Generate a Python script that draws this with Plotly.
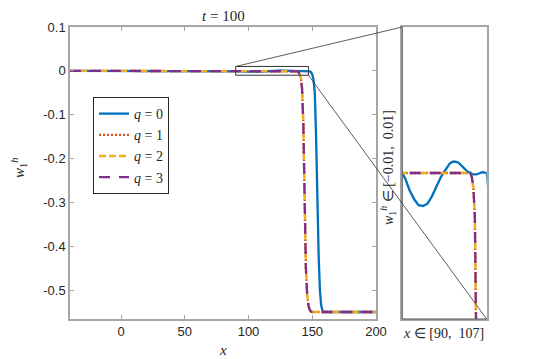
import plotly.graph_objects as go

# ---------------- data ----------------
x_q0 = [-40, 90, 92, 95, 98, 101, 104, 107, 110, 113, 116, 118, 120, 122, 124, 126, 128,
        130, 132, 134, 136, 138, 140, 142, 144, 146, 147, 148, 149, 150, 151, 152, 153,
        154, 155, 156, 157, 158, 159, 160, 200]
y_q0 = [0, 0, -0.0004, -0.0012, -0.0018, -0.0022, -0.00226, -0.0021, -0.0016, -0.0009,
        -0.0003, 0.00005, 0.0004, 0.00065, 0.00077, 0.00077, 0.0007, 0.0005, 0.0003,
        0.0001, 0.0, -0.0001, -0.0001, 0.0, 0.00005, 0.00003, 0.0, -0.001, -0.003,
        -0.008, -0.02, -0.05, -0.15, -0.3, -0.42, -0.5, -0.535, -0.546, -0.55, -0.55, -0.55]

x_q123 = [-40, 90, 120, 134, 136, 137, 138, 139, 140, 141, 142, 143, 144, 145, 146, 147,
          148, 149, 150, 200]
y_q1 = [0, 0, 0, 0, 0, -0.0003, -0.001, -0.003, -0.007, -0.015, -0.04, -0.12, -0.3,
        -0.45, -0.51, -0.535, -0.545, -0.549, -0.55, -0.55]
y_q2 = [0, 0, 0, 0, 0, -0.0003, -0.001, -0.003, -0.007, -0.015, -0.04, -0.12, -0.3,
        -0.45, -0.51, -0.535, -0.545, -0.549, -0.55, -0.55]
y_q3 = [0, 0, 0, 0, 0, -0.0003, -0.001, -0.003, -0.007, -0.015, -0.04, -0.12, -0.3,
        -0.45, -0.51, -0.535, -0.545, -0.549, -0.55, -0.55]

series_names = ["<i>q</i> = 0", "<i>q</i> = 1", "<i>q</i> = 2", "<i>q</i> = 3"]

x_tickvals = [0, 50, 100, 150, 200]
x_ticktext = ["0", "50", "100", "150", "200"]
y_tickvals = [0.1, 0, -0.1, -0.2, -0.3, -0.4, -0.5]
y_ticktext = ["0.1", "0", "-0.1", "-0.2", "-0.3", "-0.4", "-0.5"]

main_xrange = [-40, 200]
main_yrange = [-0.566, 0.1]
zoom_xrange = [90, 147]
zoom_yrange = [-0.01, 0.01]

# ---------------- layout geometry ----------------
W, H = 538, 359
main_xdom = [70 / W, 376 / W]
ydom = [1 - 319 / H, 1 - 27 / H]
inset_xdom = [402.3 / W, 486.7 / W]

colors = ["#0072BD", "#D95319", "#EDB120", "#7E2F8E"]
dashes = ["solid", "2px,2px", "7px,3px", "11px,9px"]
xs = [x_q0, x_q123, x_q123, x_q123]
ys = [y_q0, y_q1, y_q2, y_q3]

fig = go.Figure()
for i in range(4):
    fig.add_trace(go.Scatter(x=xs[i], y=ys[i], mode="lines", name=series_names[i],
                             line=dict(color=colors[i], width=2.3, dash=dashes[i]),
                             xaxis="x", yaxis="y"))
for i in range(4):
    fig.add_trace(go.Scatter(x=xs[i], y=ys[i], mode="lines", showlegend=False,
                             line=dict(color=colors[i], width=2.3, dash=dashes[i]),
                             xaxis="x2", yaxis="y2"))

axcol = "#A6A6A6"
tickfont = dict(family="Liberation Sans, Arial", size=13, color="#262626")
fig.update_layout(
    width=W, height=H,
    margin=dict(l=0, r=0, t=0, b=0, autoexpand=False),
    paper_bgcolor="white", plot_bgcolor="white",
    xaxis=dict(domain=main_xdom, range=main_xrange, tickvals=x_tickvals, ticktext=x_ticktext,
               showgrid=False, zeroline=False, showline=True, linecolor=axcol, linewidth=1.5,
               mirror="ticks", ticks="inside", ticklen=4, tickcolor=axcol, tickfont=tickfont,
               anchor="y"),
    yaxis=dict(domain=ydom, range=main_yrange, tickvals=y_tickvals, ticktext=y_ticktext,
               showgrid=False, zeroline=False, showline=True, linecolor=axcol, linewidth=1.5,
               mirror="ticks", ticks="inside", ticklen=4, tickcolor=axcol, tickfont=tickfont,
               anchor="x"),
    xaxis2=dict(domain=inset_xdom, range=zoom_xrange, showticklabels=False, ticks="",
                showgrid=False, zeroline=False, showline=True, linecolor=axcol, linewidth=1.5,
                mirror=True, anchor="y2"),
    yaxis2=dict(domain=ydom, range=zoom_yrange, showticklabels=False, ticks="",
                showgrid=False, zeroline=False, showline=True, linecolor=axcol, linewidth=1.5,
                mirror=True, anchor="x2"),
    legend=dict(x=93 / W, y=1 - 97 / H, xanchor="left", yanchor="top",
                bgcolor="white", bordercolor="#262626", borderwidth=1,
                font=dict(family="Liberation Serif, Times New Roman", size=14, color="#262626"),
                tracegroupgap=0),
    showlegend=True,
)

serif = "Liberation Serif, Times New Roman"


def to_paper_x(v, dom, rng):
    return dom[0] + (v - rng[0]) / (rng[1] - rng[0]) * (dom[1] - dom[0])


def to_paper_y(v, dom, rng):
    return dom[0] + (v - rng[0]) / (rng[1] - rng[0]) * (dom[1] - dom[0])


# zoom rectangle
fig.add_shape(type="rect", xref="x", yref="y", x0=zoom_xrange[0], x1=zoom_xrange[1],
              y0=zoom_yrange[0], y1=zoom_yrange[1], line=dict(color="#333333", width=1))
# connector lines
rx0 = to_paper_x(zoom_xrange[0], main_xdom, main_xrange)
rx1 = to_paper_x(zoom_xrange[1], main_xdom, main_xrange)
ry0 = to_paper_y(zoom_yrange[0], ydom, main_yrange)
ry1 = to_paper_y(zoom_yrange[1], ydom, main_yrange)
fig.add_shape(type="line", xref="paper", yref="paper", x0=rx0, y0=ry1,
              x1=inset_xdom[0], y1=ydom[1], line=dict(color="#333333", width=0.8))
fig.add_shape(type="line", xref="paper", yref="paper", x0=rx1, y0=ry0,
              x1=inset_xdom[1], y1=ydom[0], line=dict(color="#333333", width=0.8))
# inset left/bottom darker edges
fig.add_shape(type="line", xref="paper", yref="paper", x0=inset_xdom[0], y0=ydom[0],
              x1=inset_xdom[0], y1=ydom[1], line=dict(color="#555555", width=1))
fig.add_shape(type="line", xref="paper", yref="paper", x0=inset_xdom[0], y0=ydom[0],
              x1=inset_xdom[1], y1=ydom[0], line=dict(color="#555555", width=1))

txtcol = "#262626"


def label(text, xpx, ypx, size, angle=0):
    fig.add_annotation(text=text, xref="paper", yref="paper", x=xpx / W, y=1 - ypx / H,
                       xanchor="center", yanchor="middle", textangle=angle,
                       showarrow=False, font=dict(family=serif, size=size, color=txtcol))


label("<i>t</i> = 100", 223, 16, 15)
label("<i>x</i>", 223, 350, 15)
label("<i>w</i><sub>1</sub><sup><i>h</i></sup>", 19, 168, 15, -90)
label("<i>w</i><sub>1</sub><sup><i>h</i></sup> ∈ [−0.01,  0.01]", 388, 168, 14, -90)
label("<i>x</i> ∈ [90,  107]", 443, 333, 14)

fig.write_html("out.html", post_script="document.body.style.margin='0';",
               config={"displayModeBar": False})
